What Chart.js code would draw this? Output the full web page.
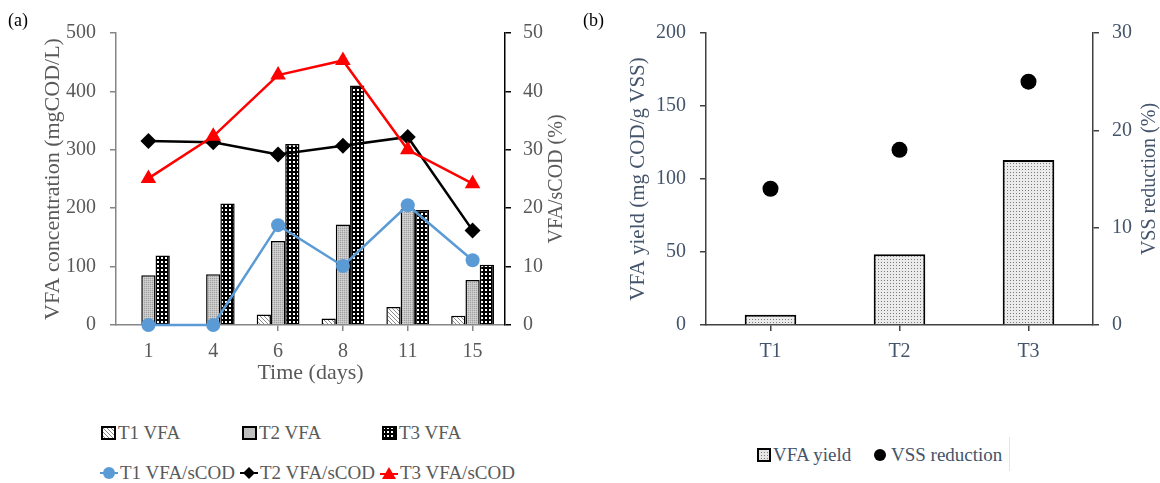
<!DOCTYPE html>
<html>
<head>
<meta charset="utf-8">
<script src="https://cdn.jsdelivr.net/npm/chart.js@4.4.1/dist/chart.umd.min.js"></script>
<style>
	body { margin: 0; background: #fff; width: 1160px; height: 483px; position: relative; overflow: hidden; font-family: "Liberation Serif", "Times New Roman", Times, serif; }
	#ca { position: absolute; left: 0; top: 0; }
	#cb { position: absolute; left: 580px; top: 0; }
	.pannello { position: absolute; font-size: 18px; color: #000; top: 10px; }
	.voce { position: absolute; font-size: 19px; color: #595959; display: flex; align-items: center; white-space: nowrap; height: 22px; }
	.voce svg { margin-right: 2px; }
	.blu { color: #44546A; }
</style>
</head>
<body>
<canvas id="ca" width="580" height="400"></canvas>
<canvas id="cb" width="580" height="400"></canvas>

<div class="pannello" style="left:8px">(a)</div>
<div class="pannello" style="left:583px">(b)</div>

<!-- legenda (a) -->
<div class="voce" style="left:101px;top:422px"><svg width="15" height="14"><rect x="1" y="1" width="13" height="12" fill="url(#tratteggio)" stroke="#000" stroke-width="2"/></svg>T1 VFA</div>
<div class="voce" style="left:242px;top:422px"><svg width="15" height="14"><rect x="1" y="1" width="13" height="12" fill="#bfbfbf" stroke="#000" stroke-width="2"/></svg>T2 VFA</div>
<div class="voce" style="left:382px;top:422px"><svg width="15" height="14"><rect x="1" y="1" width="13" height="12" fill="url(#griglia)" stroke="#000" stroke-width="2"/></svg>T3 VFA</div>
<div class="voce" style="left:100px;top:462px"><svg width="18" height="14"><line x1="0" y1="7" x2="18" y2="7" stroke="#5B9BD5" stroke-width="2"/><circle cx="9" cy="7" r="6" fill="#5B9BD5"/></svg>T1 VFA/sCOD</div>
<div class="voce" style="left:240px;top:462px"><svg width="18" height="14"><line x1="0" y1="7" x2="18" y2="7" stroke="#000" stroke-width="2"/><polygon points="9,1 15,7 9,13 3,7" fill="#000"/></svg>T2 VFA/sCOD</div>
<div class="voce" style="left:380px;top:462px"><svg width="18" height="14"><line x1="0" y1="8" x2="18" y2="8" stroke="#f00" stroke-width="2"/><polygon points="9,1 16,13 2,13" fill="#f00"/></svg>T3 VFA/sCOD</div>

<!-- legenda (b) -->
<div class="voce blu" style="left:757px;top:444px"><svg width="14" height="14"><rect x="1" y="1" width="12" height="12" fill="url(#puntini)" stroke="#000" stroke-width="2"/></svg>VFA yield</div>
<div class="voce blu" style="left:873px;top:444px"><svg width="16" height="14"><circle cx="7" cy="7" r="6" fill="#000"/></svg>VSS reduction</div>
<div style="position:absolute;left:1009px;top:437px;width:1px;height:34px;background:#e4e4e4"></div>

<svg width="0" height="0" style="position:absolute">
	<defs>
		<pattern id="tratteggio" width="4" height="4" patternUnits="userSpaceOnUse"><rect width="4" height="4" fill="#fff"/><path d="M0,0 L4,4 M-1,3 L1,5 M3,-1 L5,1" stroke="#8c8c8c" stroke-width="1"/></pattern>
		<pattern id="griglia" width="4" height="4" patternUnits="userSpaceOnUse"><rect width="4" height="4" fill="#000"/><rect x="1" y="1" width="2" height="2" fill="#fff"/></pattern>
		<pattern id="puntini" width="3" height="3" patternUnits="userSpaceOnUse"><rect width="3" height="3" fill="#e6e6e6"/><rect x="1" y="1" width="1" height="1" fill="#7a7a7a"/></pattern>
	</defs>
</svg>

<script>
	// dati pannello (a)
	var giorni = ['1', '4', '6', '8', '11', '15'];
	var t1Vfa = [0, 0, 18, 11, 31, 16];
	var t2Vfa = [85, 87, 144, 172, 199, 77];
	var t3Vfa = [119, 208, 310, 410, 197, 103];
	var t1Rapporto = [0, 0, 17.1, 10.1, 20.5, 11.1];
	var t2Rapporto = [31.5, 31.3, 29.2, 30.7, 32.2, 16.2];
	var t3Rapporto = [25.1, 32.3, 42.8, 45.3, 30, 24.2];
	var tickConc = [0, 100, 200, 300, 400, 500];
	var tickRapporto = [0, 10, 20, 30, 40, 50];

	// dati pannello (b)
	var trattamenti = ['T1', 'T2', 'T3'];
	var resaVfa = [7, 48.5, 113];
	var riduzioneVss = [14, 18, 25];
	var tickResa = [0, 50, 100, 150, 200];
	var tickVss = [0, 10, 20, 30];

	var font = '"Liberation Serif", "Times New Roman", Times, serif';
	var grigio = '#595959';
	var bluGrigio = '#44546A';

	function motivo(w, h, disegna) {
		var c = document.createElement('canvas');
		c.width = w;
		c.height = h;
		var g = c.getContext('2d');
		disegna(g);
		return g.createPattern(c, 'repeat');
	}

	var tratteggio = motivo(4, 4, function (g) {
		g.fillStyle = '#fff';
		g.fillRect(0, 0, 4, 4);
		g.strokeStyle = '#8c8c8c';
		g.lineWidth = 1;
		g.beginPath();
		g.moveTo(0, 0); g.lineTo(4, 4);
		g.moveTo(-1, 3); g.lineTo(1, 5);
		g.moveTo(3, -1); g.lineTo(5, 1);
		g.stroke();
	});
	var grigioPunti = motivo(2, 2, function (g) {
		g.fillStyle = '#c4c4c4'; g.fillRect(0, 0, 2, 2);
		g.fillStyle = '#a0a0a0'; g.fillRect(0, 0, 1, 1);
		g.fillStyle = '#d4d4d4'; g.fillRect(1, 1, 1, 1);
	});
	var griglia = motivo(4, 4, function (g) {
		g.fillStyle = '#000'; g.fillRect(0, 0, 4, 4);
		g.fillStyle = '#fff'; g.fillRect(1, 1, 2, 2);
	});
	var puntini = motivo(3, 3, function (g) {
		g.fillStyle = '#ebebeb'; g.fillRect(0, 0, 3, 3);
		g.fillStyle = '#7a7a7a'; g.fillRect(1, 1, 1, 1);
	});

	// titolo asse destro letto dal basso verso l'alto
	var titoloDestro = {
		id: 'titoloDestro',
		afterDraw: function (chart, args, opts) {
			var s = chart.scales.y2;
			var ctx = chart.ctx;
			ctx.save();
			ctx.translate(s.left + opts.dx, (s.top + s.bottom) / 2);
			ctx.rotate(-Math.PI / 2);
			ctx.font = opts.size + 'px ' + font;
			ctx.fillStyle = opts.color;
			ctx.textAlign = 'center';
			ctx.textBaseline = 'middle';
			ctx.fillText(opts.testo, 0, 0);
			ctx.restore();
		}
	};

	function assiY(ticks, colore, lato, larghezza, padding, lineaColore) {
		return {
			position: lato,
			min: ticks[0],
			max: ticks[ticks.length - 1],
			afterFit: function (s) { s.width = larghezza; },
			afterBuildTicks: function (s) { s.ticks = ticks.map(function (v) { return { value: v }; }); },
			grid: { drawOnChartArea: false, drawTicks: true, tickLength: 6, color: lineaColore, lineWidth: 1.5 },
			border: { color: lineaColore, width: 1.5 },
			ticks: { color: colore, padding: padding, font: { family: font, size: 20 } }
		};
	}

	var scaleA = {
		x: {
			afterFit: function (s) { s.height = 75; },
			grid: { drawOnChartArea: false, drawTicks: true, tickLength: 6, offset: false, color: '#868686', lineWidth: 1.5 },
			border: { color: '#868686', width: 1.5 },
			ticks: { color: grigio, padding: 9, font: { family: font, size: 20 } },
			title: { display: true, text: 'Time (days)', color: grigio, font: { family: font, size: 22 }, padding: { top: 0, bottom: 14 } }
		},
		y: assiY(tickConc, grigio, 'left', 116, 14, '#868686'),
		y2: assiY(tickRapporto, grigio, 'right', 75, 12, '#000')
	};
	scaleA.y.title = { display: true, text: 'VFA concentration (mgCOD/L)', color: grigio, font: { family: font, size: 22 }, padding: { top: 40, bottom: 0 } };

	new Chart(document.getElementById('ca'), {
		type: 'bar',
		data: {
			labels: giorni,
			datasets: [
				{ type: 'line', label: 'T3 VFA/sCOD', data: t3Rapporto, yAxisID: 'y2', clip: false, borderColor: '#f00', backgroundColor: '#f00', borderWidth: 2.5, pointStyle: 'triangle', pointRadius: 9, pointBorderWidth: 0, order: 0 },
				{ type: 'line', label: 'T2 VFA/sCOD', data: t2Rapporto, yAxisID: 'y2', clip: false, borderColor: '#000', backgroundColor: '#000', borderWidth: 2.5, pointStyle: 'rectRot', pointRadius: 8, pointBorderWidth: 0, order: 1 },
				{ type: 'line', label: 'T1 VFA/sCOD', data: t1Rapporto, yAxisID: 'y2', clip: false, borderColor: '#5B9BD5', backgroundColor: '#5B9BD5', borderWidth: 2.5, pointStyle: 'circle', pointRadius: 7, pointBorderWidth: 0, order: 2 },
				{ label: 'T1 VFA', data: t1Vfa, yAxisID: 'y', backgroundColor: tratteggio, borderColor: '#000', borderWidth: 1.5, order: 3 },
				{ label: 'T2 VFA', data: t2Vfa, yAxisID: 'y', backgroundColor: grigioPunti, borderColor: '#000', borderWidth: 1.5, order: 3 },
				{ label: 'T3 VFA', data: t3Vfa, yAxisID: 'y', backgroundColor: griglia, borderColor: '#000', borderWidth: 1.5, order: 3 }
			]
		},
		options: {
			responsive: false,
			animation: false,
			layout: { padding: { left: 0, right: 0, top: 33, bottom: 0 } },
			datasets: { bar: { categoryPercentage: 0.66, barPercentage: 1 } },
			plugins: {
				legend: { display: false },
				tooltip: { enabled: false },
				titoloDestro: { testo: 'VFA/sCOD (%)', dx: 52, size: 20, color: grigio }
			},
			scales: scaleA
		},
		plugins: [titoloDestro]
	});

	var scaleB = {
		x: {
			afterFit: function (s) { s.height = 75; },
			grid: { drawOnChartArea: false, drawTicks: true, tickLength: 6, offset: false, color: '#404040', lineWidth: 1.5 },
			border: { color: '#404040', width: 1.5 },
			ticks: { color: bluGrigio, padding: 9, font: { family: font, size: 20 } }
		},
		y: assiY(tickResa, bluGrigio, 'left', 126, 14, '#404040'),
		y2: assiY(tickVss, bluGrigio, 'right', 67, 13, '#404040')
	};
	scaleB.y.title = { display: true, text: 'VFA yield (mg COD/g VSS)', color: bluGrigio, font: { family: font, size: 21 }, padding: { top: 46, bottom: 0 } };

	new Chart(document.getElementById('cb'), {
		type: 'bar',
		data: {
			labels: trattamenti,
			datasets: [
				{ type: 'line', label: 'VSS reduction', data: riduzioneVss, yAxisID: 'y2', clip: false, showLine: false, backgroundColor: '#000', borderColor: '#000', pointStyle: 'circle', pointRadius: 8, pointBorderWidth: 0, order: 0 },
				{ label: 'VFA yield', data: resaVfa, yAxisID: 'y', backgroundColor: puntini, borderColor: '#000', borderWidth: 2, categoryPercentage: 0.4, barPercentage: 1, order: 1 }
			]
		},
		options: {
			responsive: false,
			animation: false,
			layout: { padding: { left: 0, right: 0, top: 33, bottom: 0 } },
			plugins: {
				legend: { display: false },
				tooltip: { enabled: false },
				titoloDestro: { testo: 'VSS reduction (%)', dx: 57, size: 20, color: bluGrigio }
			},
			scales: scaleB
		},
		plugins: [titoloDestro]
	});
</script>
</body>
</html>
